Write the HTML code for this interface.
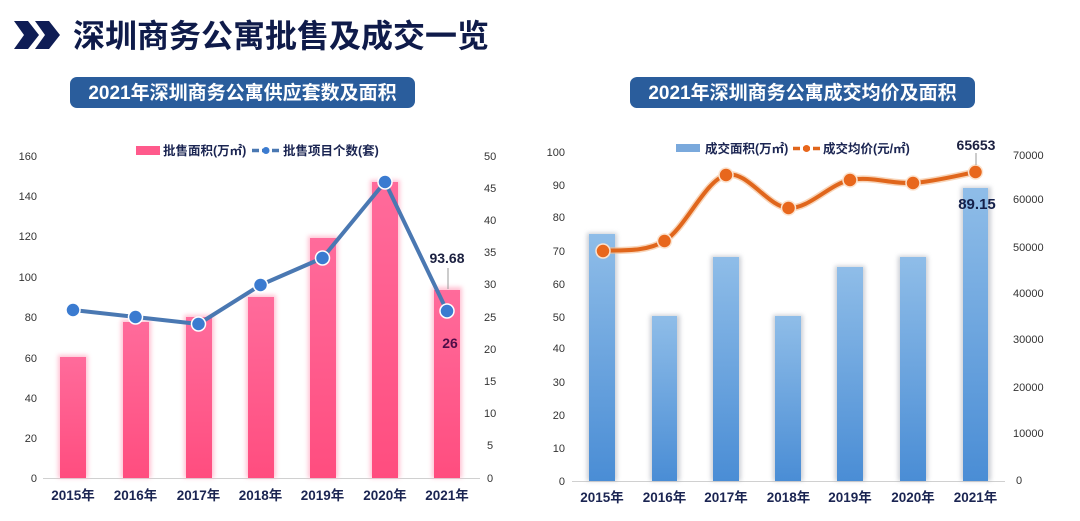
<!DOCTYPE html>
<html><head><meta charset="utf-8"><style>
html,body{margin:0;padding:0;background:#fff;}
svg{display:block;}
text{font-family:"Liberation Sans","Noto Sans CJK SC",sans-serif;}
.cjk{font-family:"Liberation Sans","Noto Sans CJK SC",sans-serif;}
.ax{font-size:11px;fill:#333;}
.xl{font-size:13.5px;font-weight:bold;fill:#1b2552;}
.lg{font-size:12.5px;font-weight:bold;fill:#1b2552;}
</style></head><body>
<svg width="1080" height="521" viewBox="0 0 1080 521" xmlns="http://www.w3.org/2000/svg">
<defs>
<linearGradient id="pk" x1="0" y1="0" x2="0" y2="1">
<stop offset="0" stop-color="#ff6b9b"/><stop offset="1" stop-color="#ff4d7f"/>
</linearGradient>
<linearGradient id="bl" x1="0" y1="0" x2="0" y2="1">
<stop offset="0" stop-color="#8fbde8"/><stop offset="1" stop-color="#4a8dd5"/>
</linearGradient>
<filter id="gl" x="-50%" y="-10%" width="200%" height="120%"><feGaussianBlur stdDeviation="2"/></filter>
</defs>

<!-- Title -->
<polygon points="14,21 28,21 39,35 28,49 14,49 24,35" fill="#0f1d55"/>
<polygon points="35,21 49,21 60,35 49,49 35,49 45,35" fill="#0f1d55"/>
<text x="73" y="47" class="cjk" style="font-size:32px;font-weight:bold;fill:#0f1b4a;">深圳商务公寓批售及成交一览</text>

<!-- Badges -->
<rect x="70" y="77" width="345" height="31" rx="7" fill="#2a5d9c"/>
<text x="242.5" y="99" text-anchor="middle" style="font-size:19px;font-weight:bold;fill:#fff;">2021年深圳商务公寓供应套数及面积</text>
<rect x="630" y="77" width="345" height="31" rx="7" fill="#2a5d9c"/>
<text x="802.5" y="99" text-anchor="middle" style="font-size:19px;font-weight:bold;fill:#fff;">2021年深圳商务公寓成交均价及面积</text>

<!-- LEFT CHART -->
<g class="ax" text-anchor="end">
<text x="37" y="160">160</text><text x="37" y="200">140</text><text x="37" y="240">120</text>
<text x="37" y="281">100</text><text x="37" y="321">80</text><text x="37" y="362">60</text>
<text x="37" y="402">40</text><text x="37" y="442">20</text><text x="37" y="482">0</text>
</g>
<g class="ax">
<text x="484" y="160">50</text><text x="484" y="192">45</text><text x="484" y="224">40</text>
<text x="484" y="256">35</text><text x="484" y="288">30</text><text x="484" y="321">25</text>
<text x="484" y="353">20</text><text x="484" y="385">15</text><text x="484" y="417">10</text>
<text x="487" y="449">5</text><text x="487" y="482">0</text>
</g>
<line x1="43" y1="478.5" x2="480" y2="478.5" stroke="#d0d0d0" stroke-width="1"/>

<g>
<g fill="#ffb3c8" filter="url(#gl)" opacity="0.8">
<rect x="58" y="355" width="30" height="123"/><rect x="121" y="320" width="30" height="158"/>
<rect x="184" y="315" width="30" height="163"/><rect x="246" y="295" width="30" height="183"/>
<rect x="308" y="236" width="30" height="242"/><rect x="370" y="180" width="30" height="298"/>
<rect x="432" y="287" width="30" height="191"/>
</g>
<g fill="url(#pk)">
<rect x="60" y="357" width="26" height="121"/><rect x="123" y="322" width="26" height="156"/>
<rect x="186" y="317" width="26" height="161"/><rect x="248" y="297" width="26" height="181"/>
<rect x="310" y="238" width="26" height="240"/><rect x="372" y="182" width="26" height="296"/>
<rect x="434" y="290" width="26" height="188"/>
</g>
</g>

<polyline points="73,310 135.5,317 198.5,324 260.5,285 322.5,258 385,182 447,311" fill="none" stroke="#4a78b2" stroke-width="4" stroke-linejoin="round"/>
<g fill="#3b7bd0" stroke="#ffffff" stroke-width="1.5">
<circle cx="73" cy="310" r="7"/><circle cx="135.5" cy="317" r="7"/><circle cx="198.5" cy="324" r="7"/>
<circle cx="260.5" cy="285" r="7"/><circle cx="322.5" cy="258" r="7"/><circle cx="385" cy="182" r="7"/>
<circle cx="447" cy="311" r="7"/>
</g>
<line x1="448" y1="268" x2="448" y2="289" stroke="#999" stroke-width="1"/>
<text x="447" y="263" text-anchor="middle" style="font-size:14px;font-weight:bold;fill:#1b2040;">93.68</text>
<text x="450" y="348" text-anchor="middle" style="font-size:14px;font-weight:bold;fill:#4f0d47;">26</text>

<!-- left legend -->
<rect x="136" y="146" width="24" height="9" fill="#ff5a8c"/>
<text x="163" y="155" class="lg">批售面积(万㎡)</text>
<line x1="252" y1="150.5" x2="280" y2="150.5" stroke="#4a78b2" stroke-width="3.5" stroke-dasharray="7,3"/>
<circle cx="266" cy="150.5" r="3.5" fill="#3b7bd0"/>
<text x="283" y="155" class="lg">批售项目个数(套)</text>

<g class="xl" text-anchor="middle">
<text x="73" y="500">2015年</text><text x="135.5" y="500">2016年</text><text x="198.5" y="500">2017年</text>
<text x="260.5" y="500">2018年</text><text x="322.5" y="500">2019年</text><text x="385" y="500">2020年</text>
<text x="447" y="500">2021年</text>
</g>

<!-- RIGHT CHART -->
<g class="ax" text-anchor="end">
<text x="565" y="156">100</text><text x="565" y="189">90</text><text x="565" y="221">80</text>
<text x="565" y="255">70</text><text x="565" y="288">60</text><text x="565" y="321">50</text>
<text x="565" y="352">40</text><text x="565" y="386">30</text><text x="565" y="419">20</text>
<text x="565" y="452">10</text><text x="565" y="485">0</text>
</g>
<g class="ax">
<text x="1013" y="159">70000</text><text x="1013" y="203">60000</text><text x="1013" y="251">50000</text>
<text x="1013" y="297">40000</text><text x="1013" y="343">30000</text><text x="1013" y="391">20000</text>
<text x="1013" y="437">10000</text><text x="1016" y="484">0</text>
</g>
<line x1="572" y1="481.5" x2="1005" y2="481.5" stroke="#d0d0d0" stroke-width="1"/>

<g>
<g fill="#a8adb8" filter="url(#gl)" opacity="0.6">
<rect x="587" y="233" width="30" height="248"/><rect x="650" y="315" width="30" height="166"/>
<rect x="711" y="256" width="30" height="225"/><rect x="773" y="315" width="30" height="166"/>
<rect x="835" y="266" width="30" height="215"/><rect x="898" y="256" width="30" height="225"/>
<rect x="961" y="187" width="30" height="294"/>
</g>
<g fill="url(#bl)">
<rect x="589" y="234" width="26" height="247"/><rect x="652" y="316" width="25" height="165"/>
<rect x="713" y="257" width="26" height="224"/><rect x="775" y="316" width="26" height="165"/>
<rect x="837" y="267" width="26" height="214"/><rect x="900" y="257" width="26" height="224"/>
<rect x="963" y="188" width="25" height="293"/>
</g>
</g>

<path d="M602,251 C612.4,249.3 643.8,253.7 664.5,241 C685.2,228.3 705.3,180.5 726,175 C746.7,169.5 767.8,207.2 788.5,208 C809.2,208.8 829.3,184.2 850,180 C870.7,175.8 892.1,184.3 913,183 C933.9,181.7 965.1,173.8 975.5,172" fill="none" stroke="#f4b98a" stroke-width="7" opacity="0.6"/>
<path d="M602,251 C612.4,249.3 643.8,253.7 664.5,241 C685.2,228.3 705.3,180.5 726,175 C746.7,169.5 767.8,207.2 788.5,208 C809.2,208.8 829.3,184.2 850,180 C870.7,175.8 892.1,184.3 913,183 C933.9,181.7 965.1,173.8 975.5,172" fill="none" stroke="#e0661c" stroke-width="4"/>
<g fill="#e8671c" stroke="#fbe3cf" stroke-width="1.5">
<circle cx="603" cy="251" r="7"/><circle cx="664.5" cy="241" r="7"/><circle cx="726" cy="175" r="7"/>
<circle cx="788.5" cy="208" r="7"/><circle cx="850" cy="180" r="7"/><circle cx="913" cy="183" r="7"/>
<circle cx="975.5" cy="172" r="7"/>
</g>
<line x1="976" y1="153" x2="976" y2="165" stroke="#999" stroke-width="1"/>
<text x="976" y="150" text-anchor="middle" style="font-size:14px;font-weight:bold;fill:#1b2040;">65653</text>
<text x="977" y="209" text-anchor="middle" style="font-size:15px;font-weight:600;fill:#14204a;">89.15</text>

<!-- right legend -->
<rect x="676" y="144" width="24" height="8" fill="#7aa9dc"/>
<text x="705" y="153" class="lg">成交面积(万㎡)</text>
<line x1="793" y1="148.5" x2="820" y2="148.5" stroke="#e0661c" stroke-width="3.5" stroke-dasharray="7,3"/>
<circle cx="806.5" cy="148.5" r="3.5" fill="#e8671c"/>
<text x="823" y="153" class="lg">成交均价(元/㎡)</text>

<g class="xl" text-anchor="middle">
<text x="602" y="502">2015年</text><text x="664.5" y="502">2016年</text><text x="726" y="502">2017年</text>
<text x="788.5" y="502">2018年</text><text x="850" y="502">2019年</text><text x="913" y="502">2020年</text>
<text x="975.5" y="502">2021年</text>
</g>
</svg>
</body></html>
